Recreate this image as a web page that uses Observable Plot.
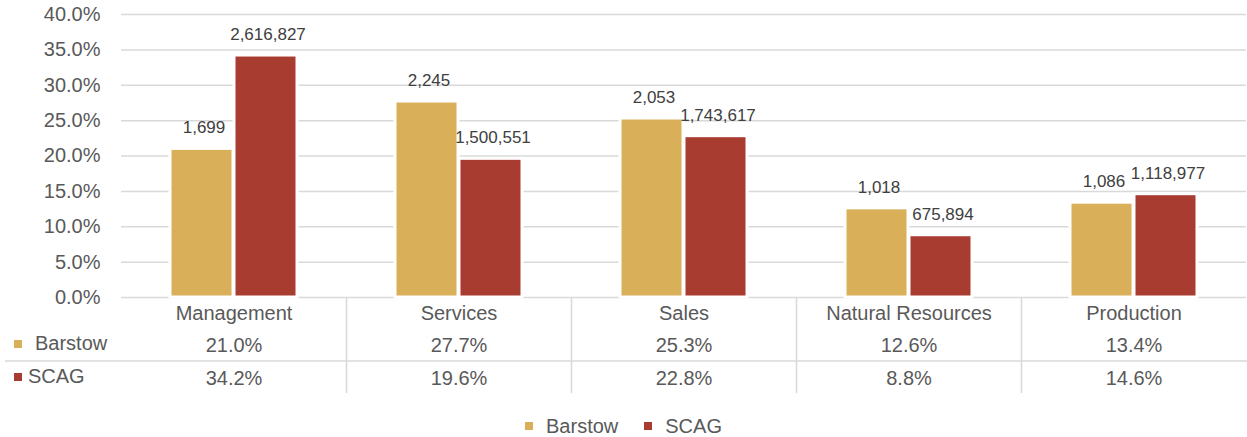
<!DOCTYPE html>
<html>
<head>
<meta charset="utf-8">
<script src="https://cdn.jsdelivr.net/npm/d3@7"></script>
<script src="https://cdn.jsdelivr.net/npm/@observablehq/plot@0.6"></script>
<style>
  html, body { margin: 0; padding: 0; background: #fff; }
  body { width: 1247px; height: 437px; overflow: hidden; font-family: "Liberation Sans", Arial, sans-serif; }
  #legend { display: flex; justify-content: center; align-items: center; margin-top: 16px; height: 20px; font-size: 20px; color: #595959; }
  #legend .item { display: flex; align-items: center; }
  #legend .sw { width: 8px; height: 8px; margin-right: 13px; }
  #legend .item + .item { margin-left: 26px; }
</style>
</head>
<body>
<div id="chart"></div>
<div id="legend"></div>
<script>
const categories = ["Management", "Services", "Sales", "Natural Resources", "Production"];
const seriesNames = ["Barstow", "SCAG"];
const barstowPct = [0.210, 0.277, 0.253, 0.126, 0.134];
const scagPct = [0.342, 0.196, 0.228, 0.088, 0.146];
const barstowCount = [1699, 2245, 2053, 1018, 1086];
const scagCount = [2616827, 1500551, 1743617, 675894, 1118977];
const yTicks = [0, 0.05, 0.10, 0.15, 0.20, 0.25, 0.30, 0.35, 0.40];
const colors = ["#DAAF5A", "#A93C31"];

const data = [];
categories.forEach((c, i) => {
  data.push({category: c, series: "Barstow", pct: barstowPct[i], count: barstowCount[i]});
  data.push({category: c, series: "SCAG", pct: scagPct[i], count: scagCount[i]});
});

const fmtPct = d3.format(".1%");
const fmtCount = d3.format(",");
const textColor = "#595959";
const gridColor = "#d9d9d9";

const chart = Plot.plot({
  width: 1247,
  height: 400,
  marginLeft: 121,
  marginRight: 1,
  marginTop: 14,
  marginBottom: 103,
  style: {fontFamily: "'Liberation Sans', Arial, sans-serif", background: "#fff"},
  fx: {domain: categories, padding: 0, axis: null},
  x: {domain: seriesNames, paddingInner: 1 / 65, paddingOuter: 0.7385, axis: null},
  y: {domain: [0, 0.4], axis: null},
  color: {domain: seriesNames, range: colors},
  marks: [
    Plot.gridY(yTicks, {stroke: gridColor, strokeOpacity: 1, strokeWidth: 1.5}),
    Plot.barY(data, {fx: "category", x: "series", y: "pct", fill: "series", stroke: "#fff", strokeWidth: 3}),
    Plot.text(data, {fx: "category", x: "series", y: "pct", text: d => fmtCount(d.count), dy: -21, dx: 2, fontSize: 17, fill: "#404040"}),
    Plot.axisY(yTicks, {tickSize: 0, tickPadding: 21, tickFormat: ".1%", fontSize: 20, fill: textColor, label: null, facetAnchor: "left"}),
    Plot.text(categories, {fx: d => d, text: d => d, frameAnchor: "bottom", lineAnchor: "middle", dy: 16, fontSize: 20, fill: textColor}),
    Plot.text(data.filter(d => d.series === "Barstow"), {fx: "category", text: d => fmtPct(d.pct), frameAnchor: "bottom", lineAnchor: "middle", dy: 48, fontSize: 20, fill: textColor}),
    Plot.text(data.filter(d => d.series === "SCAG"), {fx: "category", text: d => fmtPct(d.pct), frameAnchor: "bottom", lineAnchor: "middle", dy: 81, fontSize: 20, fill: textColor})
  ]
});

document.getElementById("chart").appendChild(chart);

// data table decorations
const svg = d3.select(chart);
const fx = chart.scale("fx");
const bottom = 400 - 103;
const g = svg.append("g").attr("text-anchor", "start");
g.append("line").attr("x1", 5).attr("x2", 1247).attr("y1", bottom + 64).attr("y2", bottom + 64)
  .attr("stroke", gridColor).attr("stroke-width", 1.6);
categories.slice(1).forEach(c => {
  const x = Math.round(fx.apply(c)) + 0.5;
  g.append("line").attr("x1", x).attr("x2", x).attr("y1", bottom).attr("y2", bottom + 96)
    .attr("stroke", gridColor).attr("stroke-width", 1.6);
});
const rowY = [bottom + 47, bottom + 80];
const rowTextX = [35, 28];
seriesNames.forEach((s, i) => {
  g.append("rect").attr("x", 14).attr("y", rowY[i] - 4).attr("width", 8).attr("height", 8).attr("fill", colors[i]);
  g.append("text").attr("x", rowTextX[i]).attr("y", rowY[i]).attr("dy", "0.32em")
    .attr("text-anchor", "start").attr("font-size", 20).attr("fill", textColor).text(s);
});

// bottom legend
const legend = d3.select("#legend");
seriesNames.forEach((s, i) => {
  const item = legend.append("div").attr("class", "item");
  item.append("div").attr("class", "sw").style("background", colors[i]);
  item.append("span").text(s);
});
</script>
</body>
</html>
